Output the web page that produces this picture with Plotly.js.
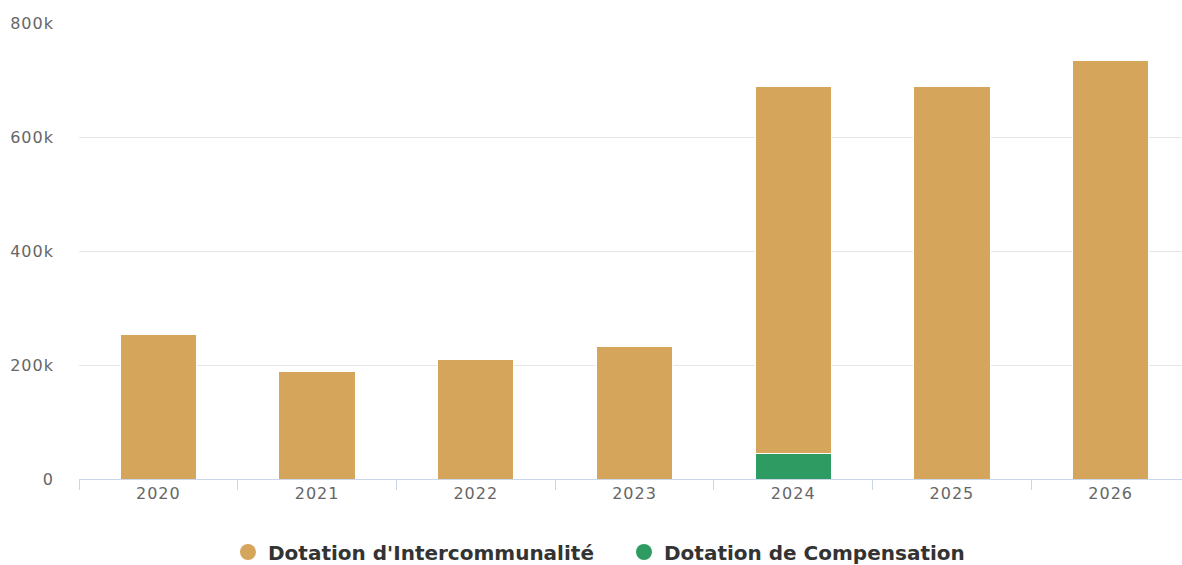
<!DOCTYPE html>
<html>
<head>
<meta charset="utf-8">
<script src="https://cdn.plot.ly/plotly-3.0.1.min.js"></script>
<style>
html,body{margin:0;padding:0;overflow:hidden;background:#fff;width:1182px;height:565px;}
#chart{width:1200px;height:565px;}
#chart .xtick text, #chart .ytick text{letter-spacing:1px;}
</style>
</head>
<body>
<div id="chart"></div>
<script>
const years = ['2020','2021','2022','2023','2024','2025','2026'];
const intercommunalite = [254000, 189000, 209000, 232000, 643000, 688000, 735000];
const compensation = [0, 0, 0, 0, 45000, 0, 0];
const seriesNames = ["Dotation d'Intercommunalité", 'Dotation de Compensation'];
const colors = ['#d4a55a', '#2e9c62'];

const traces = [
  {type:'bar', x: years, y: compensation, name: seriesNames[1], width: 0.48,
   marker:{color: colors[1], line:{color:'#ffffff', width:1}}, showlegend:false, hoverinfo:'x+y+name'},
  {type:'bar', x: years, y: intercommunalite, name: seriesNames[0], width: 0.48,
   marker:{color: colors[0], line:{color:'#ffffff', width:1}}, showlegend:false, hoverinfo:'x+y+name'},
  {type:'scatter', mode:'markers', x:[null], y:[null], name: seriesNames[0],
   marker:{symbol:'circle', size:16, color: colors[0]}, showlegend:true},
  {type:'scatter', mode:'markers', x:[null], y:[null], name: seriesNames[1],
   marker:{symbol:'circle', size:16, color: colors[1]}, showlegend:true}
];

const layout = {
  width: 1200, height: 565,
  margin: {l: 79, r: 10, t: 23, b: 86},
  paper_bgcolor: '#ffffff', plot_bgcolor: '#ffffff',
  barmode: 'stack',
  font: {family: 'DejaVu Sans, sans-serif', color: '#666666', size: 16},
  xaxis: {
    type: 'category', range: [-0.5, 6.5], showgrid: false,
    showline: true, linecolor: '#ccd6eb', linewidth: 1,
    ticks: 'outside', tickson: 'boundaries', ticklen: 10, tickcolor: '#ccd6eb',
    tickfont: {size: 16, color: '#666666'}, fixedrange: true
  },
  yaxis: {
    range: [0, 800000], tickvals: [0, 200000, 400000, 600000, 800000],
    ticktext: ['0', '200k', '400k', '600k', '800k'],
    showgrid: true, gridcolor: '#e6e6e6', zeroline: false, showline: false,
    ticks: '', ticklabelstandoff: 24,
    tickfont: {size: 16, color: '#666666'}, fixedrange: true
  },
  legend: {
    orientation: 'h', x: 228 / 1200, xanchor: 'left', xref: 'container',
    y: (565 - 552) / 565, yref: 'container', yanchor: 'middle',
    font: {family: 'DejaVu Sans, sans-serif', size: 20, color: '#333333', weight: 'bold'},
    itemsizing: 'trace', traceorder: 'normal',
    entrywidth: 351, entrywidthmode: 'pixels'
  },
  showlegend: true
};

Plotly.newPlot('chart', traces, layout, {displayModeBar: false, staticPlot: true});
</script>
</body>
</html>
